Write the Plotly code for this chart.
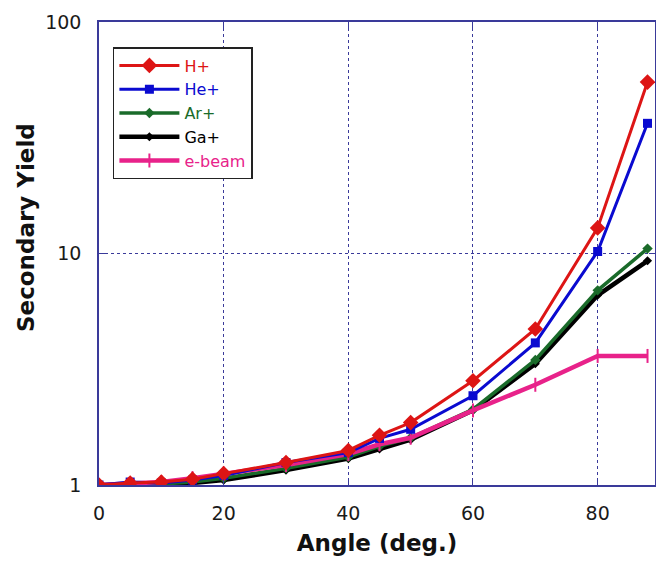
import plotly.graph_objects as go

angles = [0, 5, 10, 15, 20, 30, 40, 45, 50, 60, 70, 80, 88]
h_plus = [1.0, 1.02, 1.03, 1.06, 1.12, 1.25, 1.41, 1.64, 1.86, 2.82, 4.72, 12.9, 55.0]
he_plus = [1.0, 1.03, 1.02, 1.05, 1.10, 1.25, 1.38, 1.59, 1.74, 2.43, 4.11, 10.2, 36.5]
ar_plus = [1.0, 1.0, 1.01, 1.03, 1.07, 1.18, 1.32, 1.47, 1.60, 2.12, 3.47, 6.93, 10.5]
ga_plus = [1.0, 1.0, 1.01, 1.02, 1.05, 1.16, 1.30, 1.43, 1.57, 2.10, 3.34, 6.60, 9.3]
e_beam = [1.0, 1.01, 1.03, 1.07, 1.12, 1.22, 1.36, 1.50, 1.60, 2.10, 2.71, 3.61, 3.61]

series = [
    # name, values, color, width, symbol, size, rank
    ("Ga+", ga_plus, "#000000", 4.5, "diamond", 7, 4),
    ("Ar+", ar_plus, "#1a6b2a", 3.5, "diamond", 8, 3),
    ("e-beam", e_beam, "#e8228a", 4.5, "line-ns", 10, 5),
    ("He+", he_plus, "#0a0ad0", 3, "square", 9, 2),
    ("H+", h_plus, "#dd1515", 3, "diamond", 12, 1),
]

fig = go.Figure()
for name, vals, color, w, sym, sz, rank in series:
    fig.add_trace(go.Scatter(
        x=angles, y=vals, mode="lines+markers",
        name=f"<span style='color:{color}'>{name}</span>",
        line=dict(color=color, width=w),
        marker=dict(symbol=sym, size=sz, color=color,
                    line=dict(color=color, width=2 if sym == "line-ns" else 0)),
        legendrank=rank,
    ))

axis_col = "#3a3a9a"
fig.update_layout(
    width=648, height=555,
    margin=dict(l=91, r=1, t=14, b=78, autoexpand=False),
    paper_bgcolor="white", plot_bgcolor="white",
    font=dict(family="DejaVu Sans", color="#111111"),
    showlegend=True,
    legend=dict(
        x=0.025, y=0.946, xanchor="left", yanchor="top",
        bgcolor="white", bordercolor="#222222", borderwidth=1.5,
        font=dict(family="DejaVu Sans", size=16),
        itemwidth=60, tracegroupgap=0,
    ),
    xaxis=dict(
        range=[0, 89.2], tickvals=[0, 20, 40, 60, 80],
        showgrid=True, gridcolor=axis_col, griddash="dot", gridwidth=1,
        showline=True, linecolor=axis_col, linewidth=1.5, mirror="ticks",
        ticks="inside", ticklen=6, tickcolor=axis_col, ticklabelstandoff=10,
        tickfont=dict(size=19, family="DejaVu Sans", color="#1a1a1a"),
        title=dict(text="<b>Angle (deg.)</b>", font=dict(size=23), standoff=12),
        zeroline=False,
    ),
    yaxis=dict(
        type="log", range=[0, 2], tickvals=[1, 10, 100], ticktext=["1", "10", "100"],
        showgrid=True, gridcolor=axis_col, griddash="dot", gridwidth=1,
        showline=True, linecolor=axis_col, linewidth=1.5, mirror="ticks",
        ticks="inside", ticklen=6, tickcolor=axis_col, ticklabelstandoff=12,
        tickfont=dict(size=19, family="DejaVu Sans", color="#1a1a1a"),
        zeroline=False,
    ),
    annotations=[dict(
        text="<b>Secondary Yield</b>", textangle=-90,
        xref="paper", yref="paper", x=(26 - 99) / 556, y=(485 - 228) / 463,
        xanchor="center", yanchor="middle", showarrow=False,
        font=dict(size=23, family="DejaVu Sans", color="#111111"),
    )],
)

fig.write_html("out.html")
